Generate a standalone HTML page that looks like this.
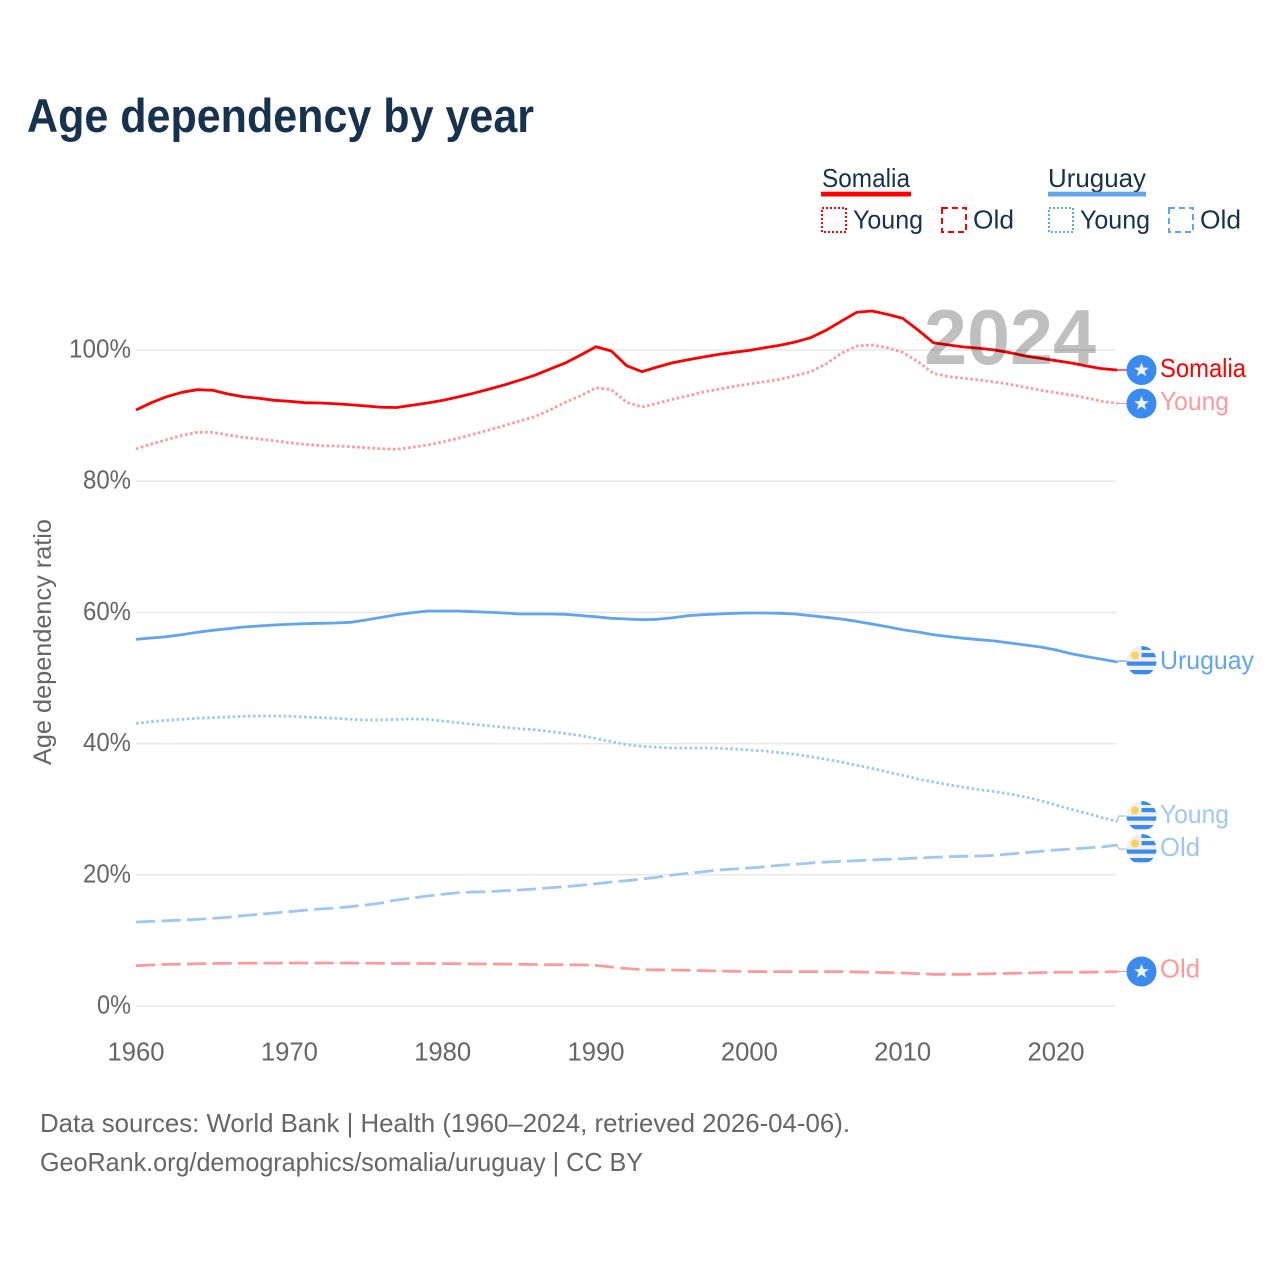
<!DOCTYPE html>
<html lang="en">
<head>
<meta charset="utf-8">
<title>Age dependency by year</title>
<style>
  html, body { margin: 0; padding: 0; background: #fff; }
  svg { display: block; font-family: "Liberation Sans", sans-serif; }
  .navy { fill: #17324f; }
  .grey { fill: #666; }
</style>
</head>
<body>
<svg id="chart" width="1280" height="1280" viewBox="0 0 1280 1280" xmlns="http://www.w3.org/2000/svg">
  <defs>
    <clipPath id="flag-clip"><circle cx="0" cy="0" r="15"/></clipPath>
    <g id="somalia-flag">
      <circle r="15" fill="#3a8bf0"/>
      <polygon fill="#eef3fb" points="0,-7.6 2,-2.4 7.4,-2.3 3.1,1 4.7,6.2 0,3.1 -4.7,6.2 -3.1,1 -7.4,-2.3 -2,-2.4"/>
    </g>
    <g id="uruguay-flag" clip-path="url(#flag-clip)">
      <rect x="-15" y="-15" width="30" height="30" fill="#f0f0f0"/>
      <rect x="0" y="-15" width="15" height="4" fill="#3a8bf0"/>
      <rect x="0" y="-8" width="15" height="4.2" fill="#3a8bf0"/>
      <rect x="-15" y="0.5" width="30" height="4.2" fill="#3a8bf0"/>
      <rect x="-15" y="9" width="30" height="4.2" fill="#3a8bf0"/>
      <circle cx="-6.5" cy="-5.5" r="4" fill="#ffd34d"/>
    </g>
  </defs>

  <rect width="1280" height="1280" fill="#fff"/>

  <text class="navy" x="27" y="132" font-size="47.5" font-weight="bold" textLength="507" lengthAdjust="spacingAndGlyphs">Age dependency by year</text>

  <g>
    <text class="navy" x="822" y="187" font-size="26" textLength="88" lengthAdjust="spacingAndGlyphs">Somalia</text>
    <rect x="821" y="191.7" width="90" height="4.8" fill="#ff0000"/>
    <rect x="822" y="208" width="24" height="24" fill="none" stroke="#ff0000" stroke-width="2" stroke-dasharray="2 2"/>
    <text class="navy" x="853" y="228.5" font-size="26" textLength="70" lengthAdjust="spacingAndGlyphs">Young</text>
    <rect x="942" y="208" width="24" height="24" fill="none" stroke="#ff0000" stroke-width="2" stroke-dasharray="6 4"/>
    <text class="navy" x="973" y="228.5" font-size="26" textLength="41" lengthAdjust="spacingAndGlyphs">Old</text>

    <text class="navy" x="1048" y="187" font-size="26" textLength="98" lengthAdjust="spacingAndGlyphs">Uruguay</text>
    <rect x="1048" y="191.7" width="98" height="4.8" fill="#60a5ef"/>
    <rect x="1049" y="208" width="24" height="24" fill="none" stroke="#60a5ef" stroke-width="2" stroke-dasharray="2 2"/>
    <text class="navy" x="1080" y="228.5" font-size="26" textLength="70" lengthAdjust="spacingAndGlyphs">Young</text>
    <rect x="1169" y="208" width="24" height="24" fill="none" stroke="#60a5ef" stroke-width="2" stroke-dasharray="6 4"/>
    <text class="navy" x="1200" y="228.5" font-size="26" textLength="41" lengthAdjust="spacingAndGlyphs">Old</text>
  </g>

  <g id="grid"></g>
  <g id="y-ticks"></g>
  <g id="x-ticks"></g>

  <text class="grey" transform="translate(51,642) rotate(-90)" text-anchor="middle" font-size="25" textLength="246" lengthAdjust="spacingAndGlyphs">Age dependency ratio</text>

  <g id="series"></g>

  <text x="924" y="364" font-size="78" font-weight="bold" fill="#000" fill-opacity="0.25" textLength="172" lengthAdjust="spacingAndGlyphs">2024</text>

  <g>
    <use href="#somalia-flag" x="1141.5" y="370"/>
    <text x="1160" y="377" font-size="26" fill="#ff0000" textLength="86" lengthAdjust="spacingAndGlyphs">Somalia</text>
    <use href="#somalia-flag" x="1141.5" y="403.5"/>
    <text x="1160" y="410" font-size="26" fill="#ff9999" textLength="69" lengthAdjust="spacingAndGlyphs">Young</text>
    <use href="#uruguay-flag" x="1141.5" y="661"/>
    <text x="1160" y="669" font-size="26" fill="#60a5ef" textLength="94" lengthAdjust="spacingAndGlyphs">Uruguay</text>
    <use href="#uruguay-flag" x="1141.5" y="816"/>
    <text x="1160" y="823" font-size="26" fill="#9fc7f3" textLength="69" lengthAdjust="spacingAndGlyphs">Young</text>
    <use href="#uruguay-flag" x="1141.5" y="849"/>
    <text x="1160" y="856" font-size="26" fill="#9fc7f3" textLength="40" lengthAdjust="spacingAndGlyphs">Old</text>
    <use href="#somalia-flag" x="1141.5" y="971.5"/>
    <text x="1160" y="977.5" font-size="26" fill="#ff9999" textLength="40" lengthAdjust="spacingAndGlyphs">Old</text>
  </g>

  <text class="grey" x="40" y="1132" font-size="26" textLength="810" lengthAdjust="spacingAndGlyphs">Data sources: World Bank | Health (1960–2024, retrieved 2026-04-06).</text>
  <text class="grey" x="40" y="1171" font-size="26" textLength="603" lengthAdjust="spacingAndGlyphs">GeoRank.org/demographics/somalia/uruguay | CC BY</text>
</svg>

<script>
const firstYear = 1960;
const xTickLabels = [1960, 1970, 1980, 1990, 2000, 2010, 2020];
const yTickLabels = [0, 20, 40, 60, 80, 100];

const somaliaTotal = [
  90.85, 91.97, 92.88, 93.55, 93.95, 93.86, 93.29, 92.88, 92.64, 92.33,
  92.18, 91.97, 91.92, 91.81, 91.66, 91.46, 91.27, 91.24, 91.57, 91.92,
  92.33, 92.83, 93.40, 94.01, 94.66, 95.38, 96.14, 97.10, 98.02, 99.24,
  100.5, 99.85, 97.61, 96.69, 97.41, 98.06, 98.52, 98.93, 99.34, 99.65,
  99.95, 100.35, 100.72, 101.22, 101.88, 103.0, 104.4, 105.75, 105.95, 105.44,
  104.83, 103.05, 101.11, 100.76, 100.46, 100.26, 100.0, 99.59, 99.09, 98.74,
  98.37, 98.02, 97.56, 97.15, 96.95
];
const somaliaYoung = [
  84.91, 85.67, 86.33, 87.0, 87.45, 87.45, 87.04, 86.69, 86.43, 86.17,
  85.87, 85.63, 85.41, 85.37, 85.26, 85.11, 84.95, 84.86, 85.17, 85.52,
  85.98, 86.54, 87.15, 87.80, 88.46, 89.18, 89.83, 90.85, 92.03, 93.03,
  94.25, 93.95, 92.03, 91.31, 91.88, 92.48, 93.03, 93.60, 94.01, 94.47,
  94.82, 95.17, 95.53, 96.08, 96.69, 97.87, 99.50, 100.61, 100.76, 100.35,
  99.65, 98.22, 96.45, 95.93, 95.69, 95.43, 95.12, 94.77, 94.31, 93.86,
  93.49, 93.14, 92.68, 92.18, 91.88
];
const somaliaOld = [
  6.14, 6.25, 6.34, 6.39, 6.44, 6.49, 6.50, 6.52, 6.53, 6.54,
  6.55, 6.55, 6.55, 6.55, 6.55, 6.53, 6.50, 6.48, 6.48, 6.48,
  6.46, 6.44, 6.42, 6.40, 6.38, 6.36, 6.33, 6.30, 6.28, 6.27,
  6.20, 5.95, 5.72, 5.54, 5.50, 5.49, 5.44, 5.39, 5.34, 5.29,
  5.26, 5.24, 5.24, 5.24, 5.24, 5.24, 5.24, 5.19, 5.14, 5.09,
  5.03, 4.93, 4.83, 4.83, 4.83, 4.88, 4.93, 4.98, 5.03, 5.09,
  5.14, 5.14, 5.14, 5.19, 5.24
];
const uruguayTotal = [
  55.90, 56.10, 56.30, 56.60, 56.97, 57.27, 57.51, 57.77, 57.93, 58.08,
  58.19, 58.28, 58.34, 58.38, 58.49, 58.84, 59.25, 59.65, 59.95, 60.21,
  60.21, 60.21, 60.11, 60.02, 59.91, 59.76, 59.76, 59.76, 59.71, 59.53,
  59.33, 59.10, 58.99, 58.89, 58.95, 59.19, 59.50, 59.65, 59.76, 59.86,
  59.91, 59.91, 59.86, 59.76, 59.50, 59.25, 58.99, 58.64, 58.23, 57.82,
  57.36, 57.01, 56.60, 56.30, 56.05, 55.84, 55.64, 55.34, 55.03, 54.73,
  54.27, 53.70, 53.25, 52.85, 52.44
];
const uruguayYoung = [
  43.09, 43.34, 43.55, 43.70, 43.86, 43.95, 44.05, 44.16, 44.21, 44.21,
  44.16, 44.05, 43.95, 43.86, 43.70, 43.60, 43.60, 43.70, 43.75, 43.70,
  43.45, 43.19, 42.94, 42.73, 42.48, 42.27, 42.12, 41.84, 41.54, 41.23,
  40.78, 40.32, 39.83, 39.59, 39.44, 39.33, 39.33, 39.33, 39.28, 39.18,
  39.02, 38.87, 38.61, 38.37, 38.00, 37.61, 37.20, 36.69, 36.23, 35.67,
  35.17, 34.60, 34.15, 33.73, 33.34, 32.97, 32.67, 32.32, 31.86, 31.30,
  30.64, 29.98, 29.38, 28.70, 28.16
];
const uruguayOld = [
  12.80, 12.91, 13.00, 13.11, 13.21, 13.36, 13.52, 13.77, 13.98, 14.18,
  14.38, 14.59, 14.79, 14.94, 15.14, 15.40, 15.70, 16.16, 16.46, 16.77,
  17.03, 17.27, 17.38, 17.42, 17.58, 17.68, 17.84, 18.03, 18.19, 18.40,
  18.64, 18.90, 19.10, 19.36, 19.62, 19.97, 20.22, 20.47, 20.73, 20.88,
  21.04, 21.23, 21.45, 21.60, 21.80, 21.95, 22.06, 22.15, 22.26, 22.36,
  22.45, 22.56, 22.67, 22.76, 22.82, 22.87, 22.97, 23.17, 23.37, 23.58,
  23.78, 23.93, 24.09, 24.24, 24.54
];

const SVG_NS = 'http://www.w3.org/2000/svg';
function xScale(year) { return 136 + (year - 1960) * (920 / 60); }
function yScale(value) { return 1006 - value * 6.56; }

const gridLayer = document.getElementById('grid');
const yTickLayer = document.getElementById('y-ticks');
const xTickLayer = document.getElementById('x-ticks');
const seriesLayer = document.getElementById('series');

yTickLabels.forEach(function (v) {
  const line = document.createElementNS(SVG_NS, 'line');
  
  
  line.setAttribute('x1', 136);
  line.setAttribute('x2', 1116);
  line.setAttribute('y1', yScale(v));
  line.setAttribute('y2', yScale(v));
  line.setAttribute('stroke', '#e8e8e8');
  line.setAttribute('stroke-width', 1.5);
  gridLayer.appendChild(line);

  const label = document.createElementNS(SVG_NS, 'text');
  
  
  label.setAttribute('class', 'grey');
  label.setAttribute('x', 131);
  label.setAttribute('y', yScale(v) + 7.5);
  label.setAttribute('text-anchor', 'end');
  label.setAttribute('font-size', 26);
  label.setAttribute('textLength', 20 + 14 * String(v).length);
  label.setAttribute('lengthAdjust', 'spacingAndGlyphs');
  label.textContent = v + '%';
  yTickLayer.appendChild(label);
});

xTickLabels.forEach(function (year) {
  const label = document.createElementNS(SVG_NS, 'text');
  
  
  label.setAttribute('class', 'grey');
  label.setAttribute('x', xScale(year));
  label.setAttribute('y', 1060.5);
  label.setAttribute('text-anchor', 'middle');
  label.setAttribute('font-size', 26);
  label.setAttribute('textLength', 57);
  label.setAttribute('lengthAdjust', 'spacingAndGlyphs');
  label.textContent = year;
  xTickLayer.appendChild(label);
});

function drawSeries(name, values, color, dash, iconY) {
  const points = values.map(function (v, i) {
    return xScale(firstYear + i).toFixed(2) + ',' + yScale(v).toFixed(2);
  }).join(' ');

  const lastX = xScale(firstYear + values.length - 1);
  const lastY = yScale(values[values.length - 1]);

  const leader = document.createElementNS(SVG_NS, 'polyline');
  
  
  leader.setAttribute('points', lastX + ',' + lastY + ' ' + (lastX + 1.5) + ',' + iconY + ' 1127,' + iconY);
  leader.setAttribute('fill', 'none');
  leader.setAttribute('stroke', color);
  leader.setAttribute('stroke-width', 1.2);
  seriesLayer.appendChild(leader);

  const line = document.createElementNS(SVG_NS, 'polyline');
  
  
  line.setAttribute('points', points);
  line.setAttribute('fill', 'none');
  line.setAttribute('stroke', color);
  line.setAttribute('stroke-width', 2.8);
  line.setAttribute('stroke-linejoin', 'round');
  if (dash) {
    line.setAttribute('stroke-dasharray', dash);
  }
  seriesLayer.appendChild(line);
}

drawSeries('uruguay-old', uruguayOld, '#9fc7f3', '19.3 6.2', 849);
drawSeries('somalia-old', somaliaOld, '#ff9999', '19.3 6.2', 971.5);
drawSeries('uruguay-young', uruguayYoung, '#9fc7f3', '2.6 2.5', 816);
drawSeries('uruguay-total', uruguayTotal, '#60a5ef', '', 661);
drawSeries('somalia-young', somaliaYoung, '#ff9999', '2.6 2.5', 403.5);
drawSeries('somalia-total', somaliaTotal, '#ff0000', '', 370);
</script>
</body>
</html>
